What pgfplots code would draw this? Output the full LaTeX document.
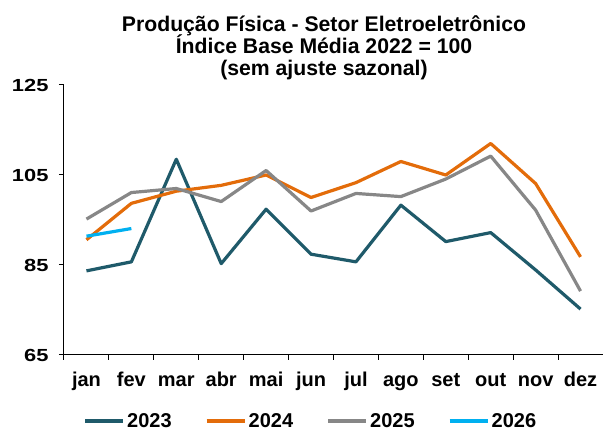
\documentclass[border=0pt]{standalone}
\usepackage{fontspec}
\setmainfont{Liberation Sans}
\newfontfamily\yfont{Liberation Sans}[FakeStretch=1.25]
\usepackage{pgfplots}
\pgfplotsset{compat=1.18}
\usetikzlibrary{calc}
\definecolor{c23}{HTML}{1F5A6A}
\definecolor{c24}{HTML}{E36C0A}
\definecolor{c25}{HTML}{878787}
\definecolor{c26}{HTML}{00B0F0}
\begin{document}
\begin{tikzpicture}
\begin{axis}[
  name=ax,
  scale only axis,
  width=539pt, height=270pt,
  xmin=0, xmax=12, ymin=65, ymax=125,
  axis x line*=bottom, axis y line*=left,
  axis line style={line width=1pt, black},
  ytick={65,85,105,125},
  xtick={0.5,1.5,...,11.5},
  xticklabels={jan,fev,mar,abr,mai,jun,jul,ago,set,out,nov,dez},
  minor xtick={0,1,...,12},
  tick align=outside,
  major tick length=5pt, minor tick length=5pt,
  major x tick style={draw=none},
  every tick/.style={black, line width=1pt},
  tick label style={font=\fontsize{20}{24}\selectfont\bfseries},
  /pgf/number format/assume math mode=true,
  yticklabel style={xshift=-7pt, font=\fontsize{17.5}{21}\selectfont\yfont\bfseries},
  xticklabel style={anchor=base, yshift=-27pt},
  legend columns=4,
  legend style={at={(0,0)}, anchor=west, xshift=19pt, yshift=-66pt,
    draw=none, inner sep=0pt, font=\fontsize{20}{24}\selectfont\bfseries,
    /tikz/every even column/.append style={column sep=31pt}},
  legend image code/.code={\draw[#1, line width=4pt] (0pt,0pt) -- (38pt,0pt);},
  legend cell align=left,
  every axis plot/.append style={line width=3.2pt, line join=round},
]
\addplot[c23] coordinates {(0.5,83.7)(1.5,85.7)(2.5,108.5)(3.5,85.3)(4.5,97.4)(5.5,87.4)(6.5,85.7)(7.5,98.3)(8.5,90.2)(9.5,92.2)(10.5,83.9)(11.5,75.2)};
\addlegendentry{2023}
\addplot[c24] coordinates {(0.5,90.6)(1.5,98.7)(2.5,101.4)(3.5,102.7)(4.5,105.0)(5.5,100.0)(6.5,103.3)(7.5,108.0)(8.5,105.0)(9.5,112.0)(10.5,103.1)(11.5,86.8)};
\addlegendentry{2024}
\addplot[c25] coordinates {(0.5,95.2)(1.5,101.1)(2.5,102.0)(3.5,99.1)(4.5,106.0)(5.5,97.0)(6.5,100.9)(7.5,100.2)(8.5,104.1)(9.5,109.2)(10.5,97.2)(11.5,79.2)};
\addlegendentry{2025}
\addplot[c26] coordinates {(0.5,91.4)(1.5,93.1)};
\addlegendentry{2026}
\end{axis}
\begin{scope}[every node/.style={font=\fontsize{21.2}{25}\selectfont\bfseries, anchor=base}]
\node at ($(ax.north west)+(260pt,53.3pt)$) {Produção Física - Setor Eletroeletrônico};
\node at ($(ax.north west)+(260pt,31pt)$) {Índice Base Média 2022 = 100};
\node at ($(ax.north west)+(260pt,9.5pt)$) {(sem ajuste sazonal)};
\end{scope}
\pgfresetboundingbox
\path ($(ax.south west)+(-64pt,-75pt)$) rectangle ($(ax.north east)+(0pt,85pt)$);
\end{tikzpicture}
\end{document}
